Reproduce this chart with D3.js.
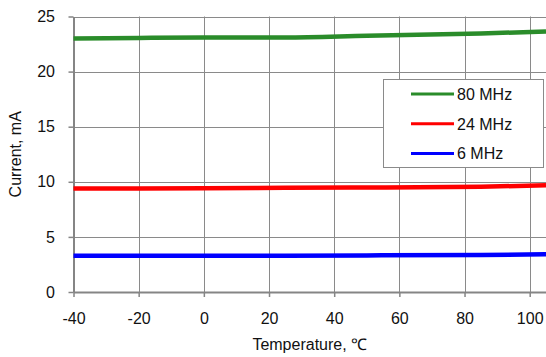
<!DOCTYPE html>
<html>
<head>
<meta charset="utf-8">
<script src="https://cdn.jsdelivr.net/npm/d3@7"></script>
<style>
  body { margin: 0; background: #fff; }
  svg { display: block; font-family: "Liberation Sans", Arial, sans-serif; }
</style>
</head>
<body>
<div id="chart"></div>
<script>
// temperature points (°C) and current readings (mA)
var temps = [-40, -20, 0, 25, 50, 85, 105];
var mhz80 = [23.0, 23.05, 23.1, 23.1, 23.25, 23.45, 23.65];
var mhz24 = [9.4, 9.4, 9.42, 9.45, 9.48, 9.55, 9.68];
var mhz6  = [3.28, 3.28, 3.29, 3.3, 3.32, 3.36, 3.42];

var seriesNames = ["80 MHz", "24 MHz", "6 MHz"];
var seriesColors = ["#2a8c2a", "#ff0000", "#0000ff"];
var xTicks = [-40, -20, 0, 20, 40, 60, 80, 100];
var yTicks = [0, 5, 10, 15, 20, 25];

var width = 546, height = 357;
var margin = {top: 16.5, right: 0, bottom: 65, left: 73.5};
var fontSize = "16px";

var svg = d3.select("#chart").append("svg")
    .attr("width", width)
    .attr("height", height);

var x = d3.scaleLinear().domain([-40, 105]).range([margin.left, width - margin.right]);
var y = d3.scaleLinear().domain([0, 25]).range([height - margin.bottom, margin.top]);

// gridlines
svg.append("g")
  .selectAll("line")
  .data(xTicks.slice(1))
  .enter().append("line")
    .attr("x1", function(d) { return Math.round(x(d)) + 0.5; })
    .attr("x2", function(d) { return Math.round(x(d)) + 0.5; })
    .attr("y1", y(25))
    .attr("y2", y(0))
    .attr("stroke", "#8a8a8a")
    .attr("stroke-width", 1);

svg.append("g")
  .selectAll("line")
  .data(yTicks.slice(1))
  .enter().append("line")
    .attr("x1", x(-40))
    .attr("x2", width)
    .attr("y1", function(d) { return Math.round(y(d)) + 0.5; })
    .attr("y2", function(d) { return Math.round(y(d)) + 0.5; })
    .attr("stroke", "#8a8a8a")
    .attr("stroke-width", 1);

// axes (plain hyphen for negatives, like the original)
var fmt = function(d) { return String(d); };

var xAxis = svg.append("g")
    .attr("transform", "translate(0," + y(0) + ")")
    .call(d3.axisBottom(x).tickValues(xTicks).tickFormat(fmt).tickSize(5).tickSizeOuter(0).tickPadding(16));

var yAxis = svg.append("g")
    .attr("transform", "translate(" + x(-40) + ",0)")
    .call(d3.axisLeft(y).tickValues(yTicks).tickFormat(fmt).tickSize(5).tickSizeOuter(0).tickPadding(13.5));

[xAxis, yAxis].forEach(function(a) {
  a.select(".domain").attr("stroke", "#858585").attr("stroke-width", 2);
  a.selectAll(".tick line").attr("stroke", "#858585").attr("stroke-width", 1.5);
  a.selectAll(".tick text")
    .attr("fill", "#111")
    .style("font-size", fontSize)
    .style("font-family", "Liberation Sans, Arial, sans-serif");
});

// axis titles
svg.append("text")
    .attr("x", (x(-40) + width) / 2)
    .attr("y", 350)
    .attr("text-anchor", "middle")
    .attr("font-size", fontSize)
    .attr("fill", "#111")
    .text("Temperature, \u2103");

svg.append("text")
    .attr("transform", "translate(21," + (y(0) + y(25)) / 2 + ") rotate(-90)")
    .attr("text-anchor", "middle")
    .attr("font-size", fontSize)
    .attr("fill", "#111")
    .text("Current, mA");

// curves
var allSeries = [mhz80, mhz24, mhz6];
var line = d3.line()
    .x(function(d, i) { return x(temps[i]); })
    .y(function(d) { return y(d); })
    .curve(d3.curveMonotoneX);

svg.append("g")
  .selectAll("path")
  .data(allSeries)
  .enter().append("path")
    .attr("d", line)
    .attr("fill", "none")
    .attr("stroke", function(d, i) { return seriesColors[i]; })
    .attr("stroke-width", 4.5);

// legend
var legend = svg.append("g");
legend.append("rect")
    .attr("x", 383.5)
    .attr("y", 79.5)
    .attr("width", 160)
    .attr("height", 88)
    .attr("fill", "#fff")
    .attr("stroke", "#8a8a8a")
    .attr("stroke-width", 1);

var items = legend.selectAll("g.item")
    .data(seriesNames)
  .enter().append("g")
    .attr("class", "item")
    .attr("transform", function(d, i) { return "translate(0," + (94 + i * 29.8) + ")"; });

items.append("line")
    .attr("x1", 411)
    .attr("x2", 454)
    .attr("stroke", function(d, i) { return seriesColors[i]; })
    .attr("stroke-width", 3);

items.append("text")
    .attr("x", 457)
    .attr("dy", "0.36em")
    .attr("font-size", fontSize)
    .attr("fill", "#111")
    .text(function(d) { return d; });
</script>
</body>
</html>
